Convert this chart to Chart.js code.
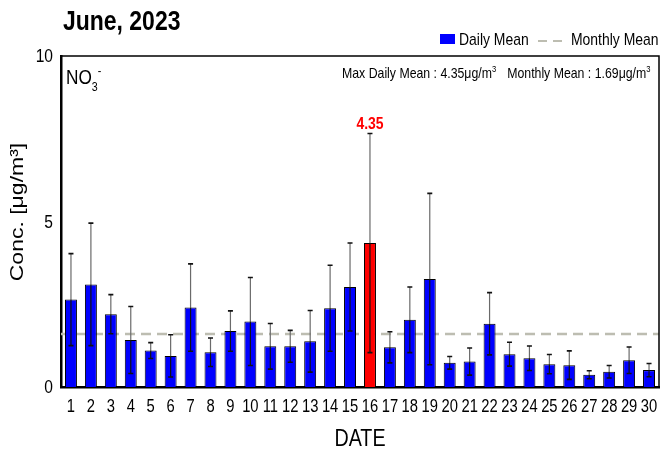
<!DOCTYPE html>
<html>
<head>
<meta charset="utf-8">
<script src="https://cdn.jsdelivr.net/npm/chart.js@4"></script>
<style>
	body { margin: 0; background: #ffffff; }
</style>
</head>
<body>
<canvas id="myChart" width="660" height="457"></canvas>
<script>
// Data block
const days = ["1", "2", "3", "4", "5", "6", "7", "8", "9", "10", "11", "12", "13", "14", "15",
	"16", "17", "18", "19", "20", "21", "22", "23", "24", "25", "26", "27", "28", "29", "30"];
const dailyMean = [2.64, 3.10, 2.20, 1.42, 1.10, 0.94, 2.40, 1.05, 1.69, 1.98,
	1.23, 1.23, 1.38, 2.38, 3.02, 4.35, 1.20, 2.03, 3.26, 0.73,
	0.77, 1.91, 0.99, 0.87, 0.69, 0.66, 0.37, 0.46, 0.81, 0.51];
const dailyStd = [1.39, 1.85, 0.59, 1.01, 0.24, 0.64, 1.32, 0.43, 0.61, 1.33,
	0.69, 0.48, 0.93, 1.30, 1.33, 3.31, 0.47, 0.99, 2.59, 0.19,
	0.41, 0.94, 0.36, 0.37, 0.29, 0.43, 0.12, 0.19, 0.40, 0.20];
const monthlyMeanLabel = 1.69; // value printed in the box
const monthlyMeanLine = 1.6; // where the dashed line sits in the picture
const yTicks = [0, 5, 10];

const FONT = "'Liberation Sans', Arial, sans-serif";
const SQUEEZE = 0.82; // the original text looks like Arial Narrow
const maxValue = Math.max(...dailyMean);
const maxIndex = dailyMean.indexOf(maxValue);

// narrow text: pieces with optional super/sub script, returns end x
function narrowText(ctx, pieces, x, y, size, align) {
	if (typeof pieces === "string") pieces = [{ t: pieces }];
	let total = 0;
	pieces.forEach((p) => {
		const s = p.small ? size * 0.62 : size;
		ctx.font = (p.bold ? "bold " : "") + s + "px " + FONT;
		p.w = ctx.measureText(p.t).width * SQUEEZE;
		p.s = s;
		total += p.w;
	});
	if (align === "center") x -= total / 2;
	if (align === "right") x -= total;
	ctx.save();
	ctx.textAlign = "left";
	pieces.forEach((p) => {
		ctx.font = (p.bold ? "bold " : "") + p.s + "px " + FONT;
		let dy = 0;
		if (p.sup) dy = -size * 0.42;
		if (p.sub) dy = size * 0.32;
		ctx.save();
		ctx.translate(x, y + dy);
		ctx.scale(SQUEEZE, 1);
		ctx.fillText(p.t, 0, 0);
		ctx.restore();
		x += p.w;
	});
	ctx.restore();
	return x;
}

const extrasPlugin = {
	id: "extras",
	beforeDraw(chart) {
		const ctx = chart.ctx;
		ctx.save();
		ctx.fillStyle = "#ffffff";
		ctx.fillRect(0, 0, chart.width, chart.height);
		ctx.restore();
	},
	beforeDatasetsDraw(chart) {
		// monthly mean dashed line, behind the bars
		const ctx = chart.ctx;
		const area = chart.chartArea;
		const my = chart.scales.y.getPixelForValue(monthlyMeanLine);
		ctx.save();
		ctx.strokeStyle = "#bdbdb1";
		ctx.lineWidth = 2.5;
		ctx.setLineDash([10, 6]);
		ctx.beginPath();
		ctx.moveTo(area.left, my);
		ctx.lineTo(area.right, my);
		ctx.stroke();
		ctx.restore();
	},
	afterDatasetsDraw(chart) {
		const ctx = chart.ctx;
		const area = chart.chartArea;
		const yScale = chart.scales.y;
		const xScale = chart.scales.x;
		const meta = chart.getDatasetMeta(0);
		ctx.save();

		// error bars
		meta.data.forEach((bar, i) => {
			const top = yScale.getPixelForValue(dailyMean[i] + dailyStd[i]);
			const bot = yScale.getPixelForValue(Math.max(dailyMean[i] - dailyStd[i], 0));
			const barTop = yScale.getPixelForValue(dailyMean[i]);
			ctx.lineWidth = 1.2;
			ctx.strokeStyle = "#6a6a6a";
			ctx.beginPath();
			ctx.moveTo(bar.x, top);
			ctx.lineTo(bar.x, barTop);
			ctx.stroke();
			ctx.strokeStyle = "#111111";
			ctx.beginPath();
			ctx.moveTo(bar.x, barTop);
			ctx.lineTo(bar.x, bot);
			ctx.stroke();
			ctx.lineWidth = 1.6;
			ctx.beginPath();
			ctx.moveTo(bar.x - 2.5, top);
			ctx.lineTo(bar.x + 2.5, top);
			ctx.moveTo(bar.x - 2.5, bot);
			ctx.lineTo(bar.x + 2.5, bot);
			ctx.stroke();
		});

		// max label
		const mb = meta.data[maxIndex];
		ctx.fillStyle = "#ff0000";
		ctx.textBaseline = "middle";
		narrowText(ctx, [{ t: maxValue.toFixed(2), bold: true }],
			mb.x, yScale.getPixelForValue(dailyMean[maxIndex] + dailyStd[maxIndex]) - 9, 17, "center");

		// frame top / right
		ctx.strokeStyle = "#000000";
		ctx.lineWidth = 1.5;
		ctx.beginPath();
		ctx.moveTo(area.left, area.top);
		ctx.lineTo(area.right, area.top);
		ctx.lineTo(area.right, area.bottom);
		ctx.stroke();

		// species label
		ctx.fillStyle = "#000000";
		ctx.textBaseline = "alphabetic";
		narrowText(ctx, [{ t: "NO" }, { t: "3", small: true, sub: true }, { t: "-", small: true, sup: true }],
			area.left + 5, area.top + 28, 21);

		// stats text
		const x1 = narrowText(ctx, [{ t: "Max Daily Mean : " + maxValue.toFixed(2) + "\u03bcg/m" }, { t: "3", small: true, sup: true }],
			342, area.top + 22, 15);
		narrowText(ctx, [{ t: "Monthly Mean : " + monthlyMeanLabel.toFixed(2) + "\u03bcg/m" }, { t: "3", small: true, sup: true }],
			x1 + 11, area.top + 22, 15);

		// tick labels
		ctx.textBaseline = "middle";
		yTicks.forEach((v) => {
			narrowText(ctx, String(v), area.left - 8, yScale.getPixelForValue(v) + 1, 19, "right");
		});
		days.forEach((d, i) => {
			narrowText(ctx, d, xScale.getPixelForTick(i), 407, 18, "center");
		});
		narrowText(ctx, "DATE", (area.left + area.right) / 2, 439, 24, "center");

		// y axis title, squeezed across like the rest of the picture
		ctx.save();
		ctx.translate(18, 212);
		ctx.scale(SQUEEZE, 1);
		ctx.rotate(-Math.PI / 2);
		ctx.textAlign = "center";
		ctx.textBaseline = "middle";
		ctx.font = "23px " + FONT;
		ctx.fillText("Conc. [\u03bcg/m\u00b3]", 0, 0);
		ctx.restore();
		ctx.restore();
	},
	afterDraw(chart) {
		const ctx = chart.ctx;
		ctx.save();
		ctx.fillStyle = "#000000";
		ctx.textBaseline = "middle";
		narrowText(ctx, [{ t: "June, 2023", bold: true }], 63, 22, 28);

		// legend
		ctx.fillStyle = "#0000ff";
		ctx.fillRect(440, 34, 15, 10);
		ctx.fillStyle = "#000000";
		narrowText(ctx, "Daily Mean", 459, 40, 17);
		ctx.strokeStyle = "#bdbdb1";
		ctx.lineWidth = 2;
		ctx.setLineDash([9, 6]);
		ctx.beginPath();
		ctx.moveTo(538, 41);
		ctx.lineTo(566, 41);
		ctx.stroke();
		ctx.setLineDash([]);
		narrowText(ctx, "Monthly Mean", 571, 40, 17);
		ctx.restore();
	},
};

const data = {
	labels: days,
	datasets: [
		{
			label: "Daily Mean",
			data: dailyMean,
			backgroundColor: dailyMean.map((v, i) => (i === maxIndex ? "#ff0000" : "#0000ff")),
			borderColor: "#000000",
			borderWidth: 1,
			categoryPercentage: 1,
			barPercentage: 0.6,
		},
	],
};

const options = {
	responsive: false,
	animation: false,
	layout: {
		padding: { top: 56, right: 1, left: 0, bottom: 0 },
	},
	plugins: {
		legend: { display: false },
		tooltip: { enabled: false },
	},
	scales: {
		y: {
			min: 0,
			max: 10,
			afterFit: function (scale) {
				scale.width = 61;
			},
			afterBuildTicks: function (scale) {
				scale.ticks = yTicks.map((v) => ({ value: v }));
			},
			grid: { display: false },
			border: { display: true, color: "#000000", width: 2.5 },
			ticks: { display: false },
		},
		x: {
			afterFit: function (scale) {
				scale.height = 70;
			},
			grid: { display: false },
			border: { display: true, color: "#000000", width: 2.5 },
			ticks: { display: false, autoSkip: false },
		},
	},
};

// Render Block
const myChart = new Chart(document.getElementById("myChart"), {
	type: "bar",
	data: data,
	options: options,
	plugins: [extrasPlugin],
});
</script>
</body>
</html>
